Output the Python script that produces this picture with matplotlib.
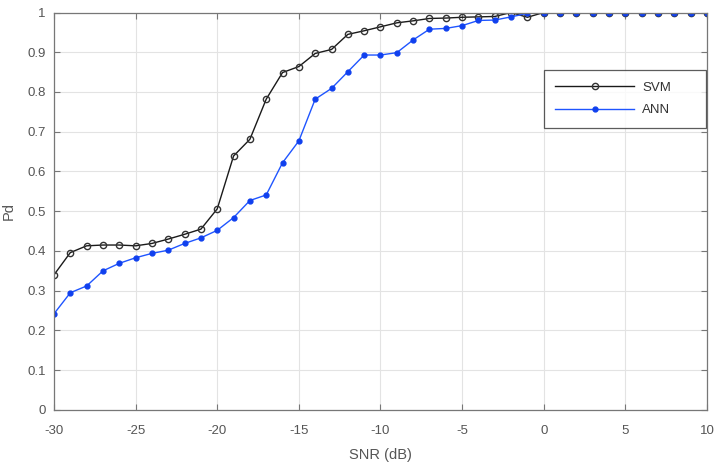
import numpy as np
import matplotlib
matplotlib.use("Agg")
import matplotlib.pyplot as plt

plt.rcParams['font.family'] = ['Liberation Sans', 'DejaVu Sans']

# SNR axis (dB)
snr = list(range(-30, 11))

# detection probability
pd_svm = [0.340, 0.396, 0.413, 0.415, 0.415, 0.413, 0.419, 0.430, 0.442, 0.455,
          0.506, 0.639, 0.681, 0.782, 0.849, 0.864, 0.897, 0.907, 0.945, 0.954,
          0.964, 0.974, 0.979, 0.985, 0.986, 0.988, 0.989, 0.990, 1.000, 0.988,
          1.0, 1.0, 1.0, 1.0, 1.0, 1.0, 1.0, 1.0, 1.0, 1.0, 1.0]
pd_ann = [0.242, 0.295, 0.312, 0.350, 0.369, 0.383, 0.394, 0.402, 0.419, 0.433,
          0.452, 0.484, 0.527, 0.541, 0.622, 0.677, 0.782, 0.809, 0.851, 0.893,
          0.893, 0.899, 0.931, 0.958, 0.960, 0.967, 0.980, 0.981, 0.989, 0.998,
          1.0, 1.0, 1.0, 1.0, 1.0, 1.0, 1.0, 1.0, 1.0, 1.0, 1.0]

x_ticks = list(range(-30, 11, 5))
y_ticks = [0, 0.1, 0.2, 0.3, 0.4, 0.5, 0.6, 0.7, 0.8, 0.9, 1]
y_labels = ["0", "0.1", "0.2", "0.3", "0.4", "0.5", "0.6", "0.7", "0.8", "0.9", "1"]

fig = plt.figure(figsize=(7.19, 4.63), dpi=100)
ax = fig.add_axes([0.0751, 0.1145, 0.9082, 0.8585])

ax.plot(snr, pd_svm, color='#1a1a1a', lw=1.0, marker='o', ms=4.5,
        mfc='none', mec='#333333', mew=1.0, label='SVM')
ax.plot(snr, pd_ann, color='#1f55ff', lw=1.0, marker='o', ms=3.5,
        mfc='#1040ee', mec='#1040ee', label='ANN')

ax.set_xlim(-30, 10)
ax.set_ylim(0, 1)
ax.set_xticks(x_ticks)
ax.set_xticklabels([str(t) for t in x_ticks])
ax.set_yticks(y_ticks)
ax.set_yticklabels(y_labels)
ax.grid(True, color='#e3e3e3', lw=0.8)
ax.set_axisbelow(True)

for s in ax.spines.values():
    s.set_color('#777777')
    s.set_linewidth(0.9)
ax.tick_params(direction='in', length=4, width=0.8, colors='#777777',
               labelcolor='#555555', labelsize=9.5, top=True, right=True)
ax.tick_params(axis='x', pad=11)
ax.tick_params(axis='y', pad=6)

ax.set_xlabel('SNR (dB)', fontsize=10.5, color='#555555', labelpad=8)
ax.set_ylabel('Pd', fontsize=10.5, color='#555555', labelpad=8)

# legend box stretched over the right part of the axes, as in the source
leg = ax.legend(loc='upper left', bbox_to_anchor=(0.75, 0.712, 0.248, 0.143),
                mode='expand', fontsize=9.5, frameon=True, fancybox=False,
                edgecolor='#333333', handlelength=6.0, borderpad=0.85,
                labelspacing=0.8, handletextpad=0.6, borderaxespad=0.0)
leg.get_frame().set_linewidth(0.9)
for t in leg.get_texts():
    t.set_color('#333333')

fig.savefig('out.png', dpi=100)
